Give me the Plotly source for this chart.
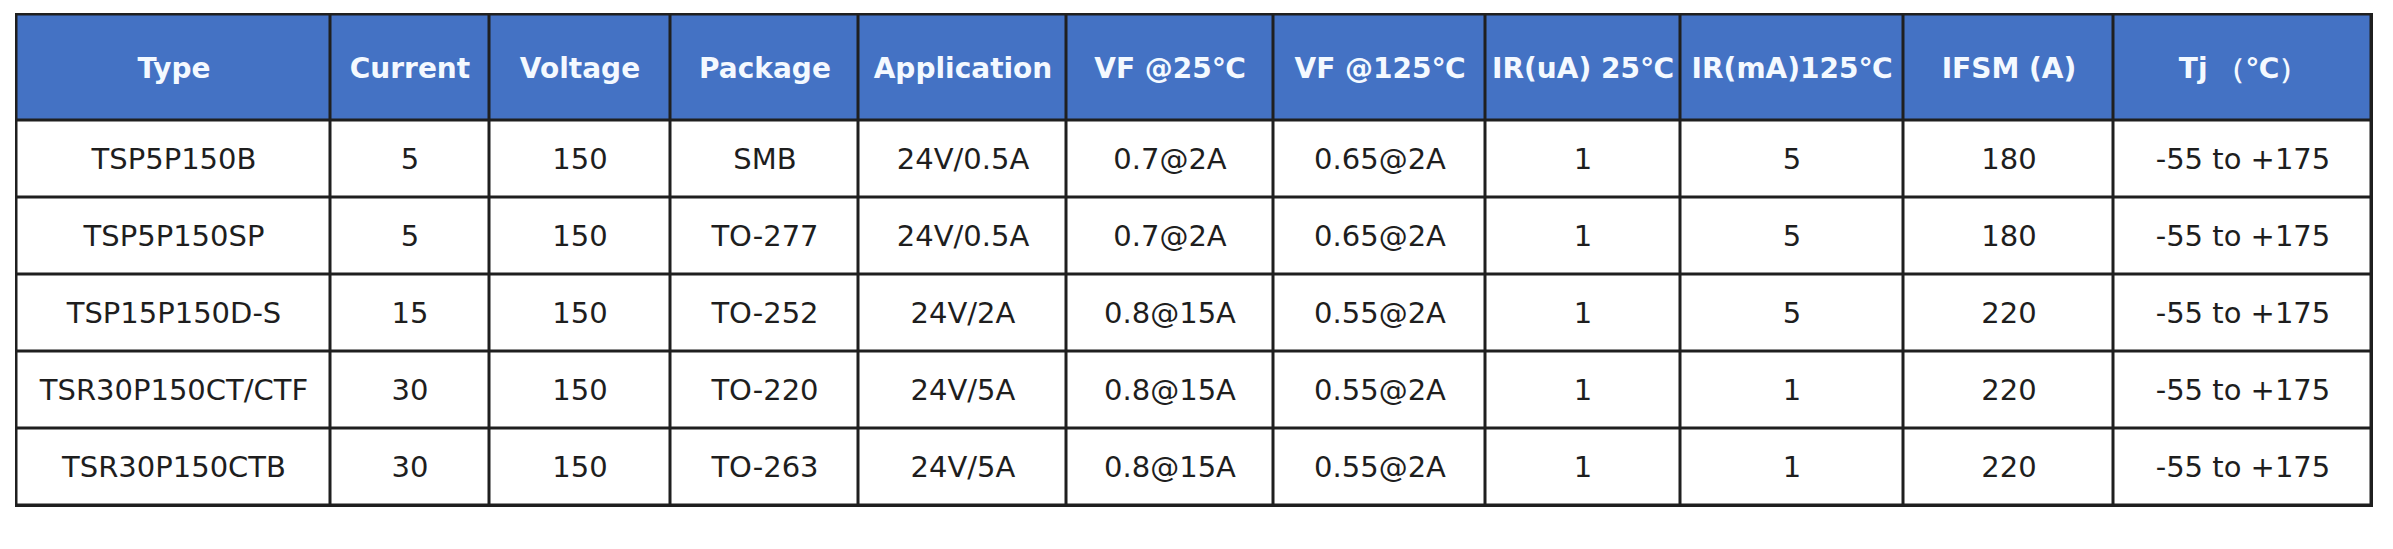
import numpy as np
import plotly.graph_objects as go

# table content
headers = ["Type", "Current", "Voltage", "Package", "Application", "VF @25℃",
           "VF @125℃", "IR(uA) 25℃", "IR(mA)125℃", "IFSM (A)", "Tj （℃）"]
types = ["TSP5P150B", "TSP5P150SP", "TSP15P150D-S", "TSR30P150CT/CTF", "TSR30P150CTB"]
currents = [5, 5, 15, 30, 30]
voltages = [150, 150, 150, 150, 150]
packages = ["SMB", "TO-277", "TO-252", "TO-220", "TO-263"]
applications = ["24V/0.5A", "24V/0.5A", "24V/2A", "24V/5A", "24V/5A"]
vf_25 = ["0.7@2A", "0.7@2A", "0.8@15A", "0.8@15A", "0.8@15A"]
vf_125 = ["0.65@2A", "0.65@2A", "0.55@2A", "0.55@2A", "0.55@2A"]
ir_25 = [1, 1, 1, 1, 1]
ir_125 = [5, 5, 5, 1, 1]
ifsm = [180, 180, 220, 220, 220]
tj = ["-55 to +175"] * 5

# layout sizes in pixels
col_widths = [314, 159, 181, 188, 208, 207, 212, 195, 223, 210, 258]
header_h = 106
row_h = 77
gap = 3

columns = [types, currents, voltages, packages, applications,
           vf_25, vf_125, ir_25, ir_125, ifsm, tj]
rows = [[str(c[i]) for c in columns] for i in range(len(types))]

x_edges = np.concatenate([[0], np.cumsum(col_widths)])
y_head = [0, header_h]
y_body = header_h + row_h * np.arange(len(rows) + 1)
total_w = x_edges[-1]
total_h = y_body[-1]

font = "DejaVu Sans"

fig = go.Figure()
fig.add_trace(go.Heatmap(
    x=x_edges, y=y_head, z=[[0] * len(headers)],
    colorscale=[[0, "#4472C4"], [1, "#4472C4"]], showscale=False,
    text=[headers], texttemplate="<b>%{text}</b>",
    textfont=dict(family=font, size=28, color="#f4f9ff"),
    xgap=gap, ygap=gap, hoverinfo="skip",
))
fig.add_trace(go.Heatmap(
    x=x_edges, y=y_body, z=[[0] * len(headers) for _ in rows],
    colorscale=[[0, "white"], [1, "white"]], showscale=False,
    text=rows, texttemplate="%{text}",
    textfont=dict(family=font, size=29, color="#1e1e1e"),
    xgap=gap, ygap=gap, hoverinfo="skip",
))

W, H = 2377, 533
fig.update_layout(
    width=W, height=H,
    margin=dict(l=7, r=W - 7 - (total_w + gap), t=5, b=H - 5 - (total_h + gap), pad=0),
    paper_bgcolor="white",
    plot_bgcolor="#1f1f1f",
    xaxis=dict(visible=False, range=[-gap / 2, total_w + gap / 2], fixedrange=True),
    yaxis=dict(visible=False, range=[total_h + gap / 2, -gap / 2], fixedrange=True),
    showlegend=False,
)

fig.write_html("out.html", config={"displayModeBar": False})
